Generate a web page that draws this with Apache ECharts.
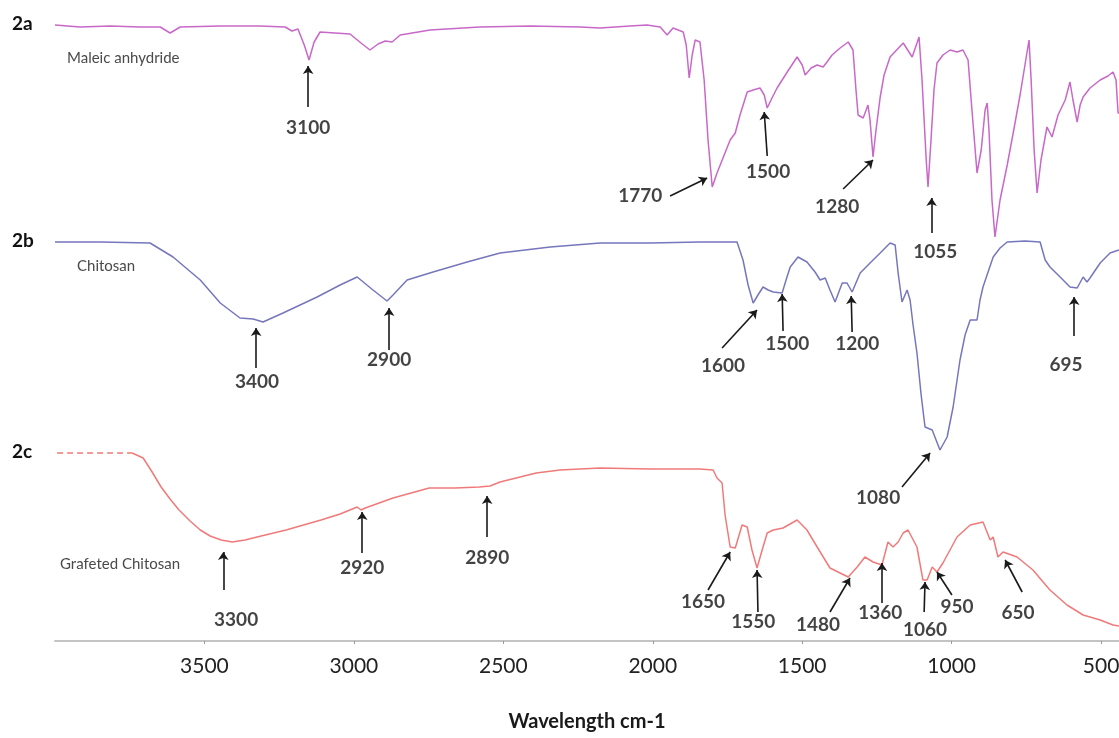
<!DOCTYPE html>
<html>
<head>
<meta charset="utf-8">
<script src="https://cdn.jsdelivr.net/npm/echarts@6/dist/echarts.min.js"></script>
<style>html,body{margin:0;padding:0;background:#fff}#c{width:1119px;height:738px}</style>
</head>
<body>
<div id="c"></div>
<script>
// ---- x tick labels (wavenumber, cm-1) ----
const xTicks = [3500, 3000, 2500, 2000, 1500, 1000, 500];

// ---- 2a Maleic anhydride (offset transmittance, a.u.) ----
const wn2a = [4000,3916,3815,3715,3648,3615,3581,3447,3314,3230,3207,3187,3166,3150,3133,3113,3063,3013,2972,2946,2919,2895,2872,2845,2745,2578,2410,2243,2176,2076,2019,1975,1952,1932,1898,1888,1878,1868,1858,1842,1828,1815,1801,1785,1761,1741,1724,1708,1684,1664,1641,1627,1617,1601,1584,1550,1517,1500,1490,1470,1450,1430,1417,1400,1373,1346,1330,1320,1313,1296,1286,1280,1273,1263,1253,1239,1226,1206,1162,1132,1109,1099,1085,1079,1069,1059,1049,1029,1005,982,962,945,932,915,901,888,881,875,865,855,838,814,794,771,741,734,724,714,701,681,664,644,620,604,594,580,570,560,537,503,477,460,450,443,440];
const t2a = [616,614,615,614,614,608,614,615,615,614,610,612,596,581,599,609,608,607,597,591,597,600,599,606,611,614,615,614,613,615,616,614,606,613,609,596,563,586,601,599,561,501,454,468,486,501,508,526,549,551,553,546,533,543,553,569,584,576,566,573,576,574,579,586,593,599,591,551,526,523,531,536,521,484,511,544,566,584,598,584,604,561,481,454,501,551,578,586,591,589,591,581,531,468,491,531,538,511,441,404,441,476,508,546,601,561,491,448,481,514,504,526,541,559,541,519,536,544,553,561,565,569,561,528,528];

// ---- 2b Chitosan ----
const wn2b = [4000,3849,3682,3605,3514,3447,3381,3337,3304,3237,3123,3046,2989,2936,2889,2869,2822,2735,2621,2511,2343,2176,2009,1842,1718,1698,1681,1664,1648,1631,1614,1597,1567,1554,1540,1514,1484,1457,1440,1423,1407,1390,1366,1350,1333,1306,1273,1239,1206,1189,1179,1166,1149,1139,1129,1116,1102,1089,1065,1052,1039,1015,995,972,955,938,915,905,895,861,838,814,754,704,687,671,637,604,580,560,547,537,503,470,440];
const t2b = [399,399,398,384,361,338,323,322,319,328,344,356,364,351,340,346,361,369,379,388,394,398,398,399,399,381,356,338,346,354,351,349,348,361,374,384,379,369,361,363,351,339,358,358,349,368,378,388,398,396,368,339,351,341,316,288,246,214,211,201,191,204,234,281,306,321,321,341,354,384,393,399,400,399,381,374,364,354,353,364,359,363,378,388,391];

// ---- 2c Grafeted Chitosan ----
const wn2c = [3993,3849,3742,3705,3675,3645,3615,3585,3548,3514,3481,3444,3407,3364,3324,3227,3110,3046,2989,2976,2962,2869,2748,2661,2581,2544,2511,2390,2310,2176,2009,1842,1798,1785,1768,1758,1741,1724,1701,1684,1668,1651,1634,1617,1597,1564,1517,1484,1450,1407,1346,1316,1290,1263,1233,1213,1196,1179,1162,1146,1116,1096,1082,1065,1049,1029,982,938,895,871,861,845,828,781,728,671,614,560,503,460,440];
const t2c = [188,188,188,183,169,154,142,131,120,111,105,101,99,101,104,111,121,127,134,131,133,143,153,153,154,155,159,168,171,173,172,172,171,163,158,126,94,93,116,114,91,73,91,108,111,113,121,111,94,73,64,74,84,79,76,99,94,99,108,111,94,61,61,74,69,78,104,116,119,101,104,84,89,84,71,51,36,26,21,16,15];
const dashedCount2c = 3; // leading dashed segment of 2c

// ---- peak annotations ----
const peakText = ['3100','1770','1500','1280','1055','3400','2900','1600','1500','1200','695','1080','3300','2920','2890','1650','1550','1480','1360','1060','950','650'];
const peakLabelWn = [3153,2042,1614,1383,1055,3324,2882,1765,1550,1316,617,1246,3394,2972,2554,1832,1664,1447,1239,1089,982,778];
const peakLabelY  = [513,445,469,434,389,259,281,275,297,297,276,143,21,73,83,39,19,16,28,11,34,28];
const arrowFromWn = [3153,1942,1617,1363,1067,3327,2882,1768,1564,1333,590,1166,3437,2972,2554,1815,1648,1407,1233,1092,999,764];
const arrowFromY  = [534,445,485,452,408,273,291,293,310,309,305,154,51,88,104,51,29,29,38,29,46,49];
const arrowToWn   = [3153,1818,1627,1263,1067,3327,2882,1651,1567,1336,590,1072,3437,2972,2554,1741,1651,1340,1233,1089,1049,821];
const arrowToY    = [575,463,529,481,443,313,333,331,347,345,344,188,89,129,145,89,71,63,78,59,69,81];

// ---- sample names ----
const sampleTags = ['2a','2b','2c'];
const sampleNames = ['Maleic anhydride','Chitosan','Grafeted Chitosan'];

const zip = (a, b) => a.map((v, i) => [v, b[i]]);
const FONT = 'Lato, "Open Sans", sans-serif';

const chart = echarts.init(document.getElementById('c'), null, {renderer: 'canvas'});
const line = (name, data, color, type) => ({
  name, type: 'line', data, showSymbol: false, symbol: 'none', animation: false,
  lineStyle: {color, width: 1.5, type: type || 'solid'}, z: 2
});

chart.setOption({
  backgroundColor: '#ffffff',
  animation: false,
  grid: {left: 55, right: 0, top: 0, bottom: 97, containLabel: false, outerBoundsMode: 'none'},
  xAxis: {
    type: 'value', inverse: true, min: 440, max: 4000,
    name: 'Wavelength cm-1', nameLocation: 'middle', nameGap: 71,
    nameTextStyle: {fontFamily: FONT, fontSize: 20, fontWeight: 'bold', color: '#1a1a1a'},
    axisLine: {show: true, lineStyle: {color: '#c4c4c4', width: 2}},
    axisTick: {show: true, length: 3, lineStyle: {color: '#999', width: 1}, customValues: xTicks},
    axisLabel: {customValues: xTicks, formatter: v => String(v), fontFamily: FONT, fontSize: 21, color: '#222', margin: 15},
    splitLine: {show: false}
  },
  yAxis: {type: 'value', min: 0, max: 641, show: false},
  series: [
    line('Maleic anhydride', zip(wn2a, t2a), '#c868c8'),
    line('Chitosan', zip(wn2b, t2b), '#7676bd'),
    line('Grafeted Chitosan (start)', zip(wn2c.slice(0, dashedCount2c), t2c.slice(0, dashedCount2c)), '#f07a7a', [6, 4]),
    line('Grafeted Chitosan', zip(wn2c.slice(dashedCount2c - 1), t2c.slice(dashedCount2c - 1)), '#f07a7a'),
    {
      name: 'arrows', type: 'line', data: [], animation: false,
      markLine: {
        silent: true, animation: false,
        symbol: ['none', 'arrow'], symbolSize: 8,
        lineStyle: {color: '#1a1a1a', width: 1.6, type: 'solid'},
        label: {show: false},
        data: arrowFromWn.map((w, i) => [
          {coord: [w, arrowFromY[i]]},
          {coord: [arrowToWn[i], arrowToY[i]]}
        ])
      }
    },
    {
      name: 'peaks', type: 'scatter', symbolSize: 1, animation: false,
      itemStyle: {color: 'rgba(0,0,0,0)'},
      label: {show: true, position: 'inside', formatter: p => p.name,
        fontFamily: FONT, fontSize: 19, fontWeight: 'bold', color: '#141414'},
      data: peakText.map((t, i) => ({name: t, value: [peakLabelWn[i], peakLabelY[i]]})),
      z: 5
    }
  ],
  graphic: [
    {type: 'text', left: 12, top: 14, style: {text: sampleTags[0], font: 'bold 19px ' + FONT, fill: '#111'}},
    {type: 'text', left: 67, top: 51, style: {text: sampleNames[0], font: '15px ' + FONT, fill: '#4a4a4a'}},
    {type: 'text', left: 12, top: 231, style: {text: sampleTags[1], font: 'bold 19px ' + FONT, fill: '#111'}},
    {type: 'text', left: 77, top: 259, style: {text: sampleNames[1], font: '15px ' + FONT, fill: '#4a4a4a'}},
    {type: 'text', left: 12, top: 442, style: {text: sampleTags[2], font: 'bold 19px ' + FONT, fill: '#111'}},
    {type: 'text', left: 60, top: 557, style: {text: sampleNames[2], font: '15px ' + FONT, fill: '#4a4a4a'}}
  ]
});
</script>
</body>
</html>
